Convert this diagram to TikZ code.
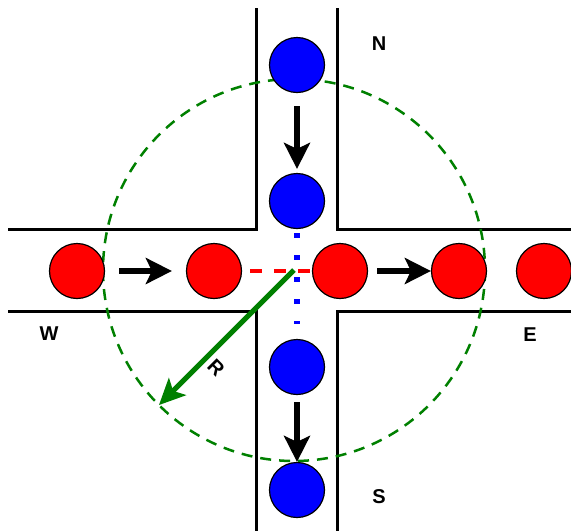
\documentclass[tikz,border=0pt]{standalone}
\usepackage{fontspec}
\setmainfont{Liberation Sans}
\usetikzlibrary{positioning,arrows.meta,calc}
\definecolor{carred}{RGB}{255,0,0}
\definecolor{carblue}{RGB}{0,0,255}
\definecolor{zonegreen}{RGB}{0,128,0}

\begin{document}
\begin{tikzpicture}[x=1pt,y=-1pt,
            car/.style={circle,draw=black,line width=1.2pt,
                        minimum size=55pt,inner sep=0pt},
            redcar/.style={car,fill=carred},
            bluecar/.style={car,fill=carblue},
            road/.style={black,line width=3pt},
            arr/.style={-{Stealth[length=26pt,width=26pt,inset=6pt]},
                        black,line width=6pt},
            lbl/.style={text=black,font=\bfseries\fontsize{20}{24}\selectfont}]
            \useasboundingbox (0,0) rectangle (571,531);
            \draw[road] (256,8) -- (256,229) -- (8,229);
            \draw[road] (337,8) -- (337,229) -- (571,229);
            \draw[road] (8,311) -- (256,311) -- (256,531);
            \draw[road] (571,311) -- (337,311) -- (337,531);
            \coordinate (c) at (294,270);
            \coordinate (rim) at ($(c)+(135:191)$);
            \draw[zonegreen,line width=2.5pt,dash pattern=on 11pt off 8pt]
                       (c) circle[radius=191];
            \node[redcar]  (r1) at (77,271)  {};
            \node[redcar]  (r2) at (214,271) {};
            \node[redcar]  (r3) at (340,271) {};
            \node[redcar]  (r4) at (459,271) {};
            \node[redcar]  (r5) at (544,271) {};
            \node[bluecar] (b1) at (297,65)  {};
            \node[bluecar] (b2) at (297,201) {};
            \node[bluecar] (b3) at (297,367) {};
            \node[bluecar] (b4) at (297,490) {};
            \node[lbl] (n) at (379,44)  {N};
            \node[lbl] (s) at (379,497) {S};
            \node[lbl] (w) at (49,334)  {W};
            \node[lbl] (e) at (530,335) {E};
            \draw[arr,shorten <=14pt,shorten >=14pt] (r1) -- (r2);
            \draw[arr,shorten <=9pt] (r3) -- (r4);
            \draw[arr,shorten <=13pt,shorten >=4pt] (b1) -- (b2);
            \draw[arr,shorten <=7pt] (b3) -- (b4);
            \draw[carred,line width=3.5pt,dash pattern=on 12pt off 12pt,
                  shorten <=8pt] (r2) -- (r3);
            \draw[carblue,line width=5.5pt,dash pattern=on 5pt off 17pt,
                  shorten <=4pt,shorten >=15pt] (b2) -- (b3);
            \draw[-{Stealth[length=26pt,width=24pt,inset=6pt]},zonegreen,
                  line width=5pt] (c) -- (rim)
                  node[pos=0.65,xshift=10pt,yshift=-10pt,rotate=-45,lbl] (rl) {R};
        \end{tikzpicture}
\end{document}
